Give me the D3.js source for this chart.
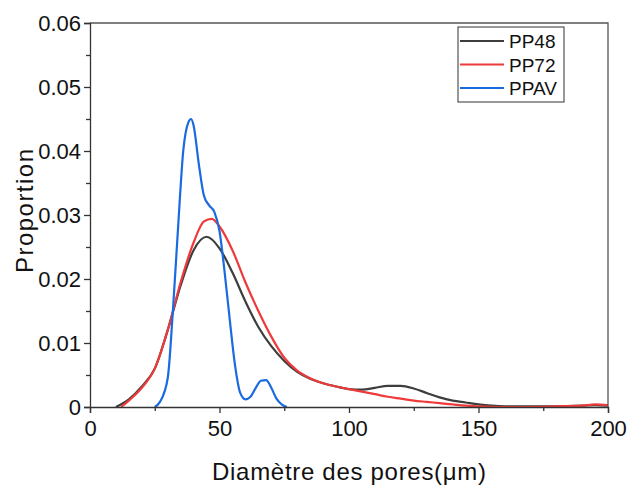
<!DOCTYPE html>
<html>
<head>
<meta charset="utf-8">
<script src="https://cdn.jsdelivr.net/npm/d3@7"></script>
<style>
  body { margin: 0; background: #fff; }
  svg { font-family: "Liberation Sans", Arial, sans-serif; }
</style>
</head>
<body>
<svg id="chart" width="633" height="489"></svg>
<script>
// Pore size distributions
const pp48X = [10, 15, 20, 25, 30, 35, 40, 45, 50, 55, 60, 65, 70, 75, 80, 85, 90, 95, 100, 105, 110, 115, 120, 125, 130, 135, 140, 145, 150, 155, 160, 170, 180, 190, 195, 200];
const pp48Y = [0, 0.0012, 0.0032, 0.0060, 0.0120, 0.0190, 0.0245, 0.0266, 0.0248, 0.0210, 0.0165, 0.0125, 0.0095, 0.0072, 0.0055, 0.0044, 0.0037, 0.0032, 0.0028, 0.0027, 0.0030, 0.0033, 0.0033, 0.0029, 0.0022, 0.0015, 0.0010, 0.0007, 0.0004, 0.0002, 0.0001, 0.0001, 0.0001, 0.0002, 0.0003, 0.0002];

const pp72X = [12, 15, 20, 25, 30, 35, 40, 44, 47, 50, 55, 60, 65, 70, 75, 80, 85, 90, 95, 100, 105, 110, 115, 120, 125, 130, 135, 140, 145, 150, 160, 170, 180, 190, 195, 200];
const pp72Y = [0, 0.0010, 0.0030, 0.0060, 0.0120, 0.0195, 0.0257, 0.0290, 0.0294, 0.0282, 0.0245, 0.0195, 0.0150, 0.0110, 0.0077, 0.0057, 0.0045, 0.0037, 0.0032, 0.0028, 0.0024, 0.0020, 0.0016, 0.0013, 0.0010, 0.0008, 0.0006, 0.0004, 0.0002, 0.0001, 0, 0, 0.0001, 0.0002, 0.0004, 0.0003];

const ppavX = [25, 27, 30, 32, 34, 36, 38, 39, 40, 42, 44, 46, 48, 50, 52, 54, 56, 58, 60, 62, 64, 66, 68, 70, 72, 74, 76];
const ppavY = [0, 0.0008, 0.0045, 0.0150, 0.0280, 0.0400, 0.0445, 0.0450, 0.0440, 0.0380, 0.0330, 0.0315, 0.0305, 0.0275, 0.0210, 0.0135, 0.0065, 0.0022, 0.0012, 0.0016, 0.0030, 0.0041, 0.0042, 0.0030, 0.0013, 0.0004, 0];

const seriesNames = ["PP48", "PP72", "PPAV"];
const seriesColors = ["#3d3d3d", "#ee3a3a", "#1a6ae0"];

const xTicks = [0, 50, 100, 150, 200];
const yTicks = [0, 0.01, 0.02, 0.03, 0.04, 0.05, 0.06];
const yTickLabels = ["0", "0.01", "0.02", "0.03", "0.04", "0.05", "0.06"];

const svg = d3.select("#chart");
const m = { left: 90, right: 608, top: 23, bottom: 407 };

const x = d3.scaleLinear().domain([0, 200]).range([m.left, m.right]);
const y = d3.scaleLinear().domain([0, 0.06]).range([m.bottom, m.top]);

const series = [
  { name: seriesNames[0], color: seriesColors[0], pts: pp48X.map((v, i) => [v, pp48Y[i]]) },
  { name: seriesNames[1], color: seriesColors[1], pts: pp72X.map((v, i) => [v, pp72Y[i]]) },
  { name: seriesNames[2], color: seriesColors[2], pts: ppavX.map((v, i) => [v, ppavY[i]]) }
];

const line = d3.line()
  .x(d => x(d[0]))
  .y(d => y(d[1]))
  .curve(d3.curveMonotoneX);

// curves
svg.append("g").selectAll("path")
  .data(series)
  .join("path")
  .attr("d", d => line(d.pts))
  .attr("fill", "none")
  .attr("stroke", d => d.color)
  .attr("stroke-width", 2.2)
  .attr("stroke-linejoin", "round");

// frame (top + right)
svg.append("path")
  .attr("d", `M${m.left},${m.top}H${m.right}V${m.bottom}`)
  .attr("fill", "none")
  .attr("stroke", "#555")
  .attr("stroke-width", 1.3);

// bottom axis
svg.append("g")
  .attr("transform", `translate(0,${m.bottom})`)
  .call(d3.axisBottom(x).tickValues(xTicks).tickSize(6).tickPadding(7).tickFormat(d3.format("d")));
svg.append("g")
  .attr("transform", `translate(0,${m.bottom})`)
  .call(d3.axisBottom(x).tickValues(d3.range(25, 200, 50)).tickSize(4).tickFormat(""))
  .call(g => g.select(".domain").remove());

// left axis
svg.append("g")
  .attr("transform", `translate(${m.left},0)`)
  .call(d3.axisLeft(y).tickValues(yTicks).tickSize(6).tickPadding(3)
    .tickFormat((d, i) => yTickLabels[i]));
svg.append("g")
  .attr("transform", `translate(${m.left},0)`)
  .call(d3.axisLeft(y).tickValues(d3.range(0.005, 0.06, 0.01)).tickSize(4).tickFormat(""))
  .call(g => g.select(".domain").remove());

svg.selectAll(".domain, .tick line").attr("stroke", "#333").attr("stroke-width", 1.3);
svg.selectAll(".tick text").attr("font-size", 22).attr("fill", "#111")
  .attr("font-family", "'Liberation Sans', Arial, sans-serif");

// axis titles
svg.append("text")
  .attr("x", 349)
  .attr("y", 480)
  .attr("text-anchor", "middle")
  .attr("font-size", 24)
  .attr("textLength", 274)
  .attr("lengthAdjust", "spacing")
  .attr("fill", "#111")
  .text("Diamètre des pores(μm)");

svg.append("text")
  .attr("transform", "translate(33,211) rotate(-90)")
  .attr("text-anchor", "middle")
  .attr("font-size", 24)
  .attr("textLength", 124)
  .attr("lengthAdjust", "spacing")
  .attr("fill", "#111")
  .text("Proportion");

// legend
const lg = svg.append("g").attr("transform", "translate(458,27)");
lg.append("rect")
  .attr("width", 106).attr("height", 75)
  .attr("fill", "#fff").attr("stroke", "#333").attr("stroke-width", 1);
const rows = lg.selectAll("g.row").data(series).join("g")
  .attr("class", "row")
  .attr("transform", (d, i) => `translate(0,${14 + i * 23.5})`);
rows.append("line")
  .attr("x1", 2).attr("x2", 46)
  .attr("stroke", d => d.color).attr("stroke-width", 2);
rows.append("text")
  .attr("x", 51).attr("y", 7)
  .attr("font-size", 19).attr("fill", "#111")
  .text(d => d.name);
</script>
</body>
</html>
